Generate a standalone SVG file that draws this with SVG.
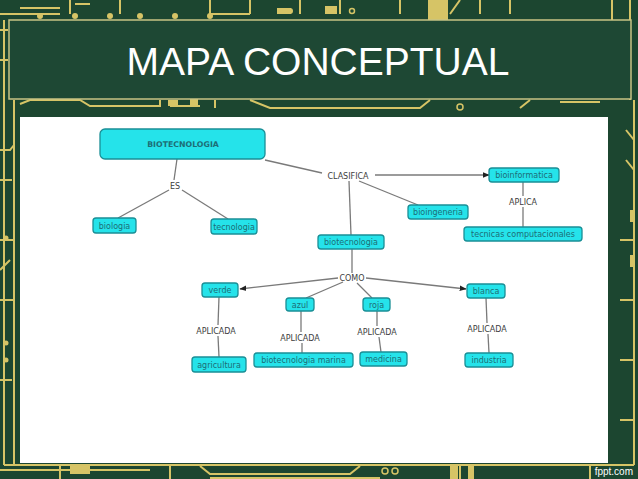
<svg xmlns="http://www.w3.org/2000/svg" width="638" height="479" viewBox="0 0 638 479">
<defs>
<style>
.trace{fill:none;stroke:#d6c466;stroke-width:2}
.pad{fill:#d6c466}
.node rect{fill:#25e3ea;stroke:#1a8f96;stroke-width:1.3}
.node text{font-family:"DejaVu Sans",sans-serif;font-size:8px;fill:#1d6e76;text-anchor:middle}
.lbl{font-family:"DejaVu Sans",sans-serif;font-size:8px;fill:#3d3d3d;text-anchor:middle}
.conn line{stroke:#7a7a7a;stroke-width:1.3}
</style>
<marker id="ah" viewBox="0 0 10 10" refX="9" refY="5" markerWidth="7" markerHeight="7" orient="auto" markerUnits="userSpaceOnUse">
<path d="M0,1 L10,5 L0,9 z" fill="#222"/>
</marker>
</defs>
<!-- background circuit board -->
<rect width="638" height="479" fill="#1c4630"/>
<g id="circuit">
<path class="trace" d="M0,14 H60 M70,0 V14 M120,0 V14 M20,8 H60 M75,4 H90 M210,0 V14 H250 M250,14 V0 M300,0 V14 M340,0 V14 M400,0 V14 M430,14 V2 M460,0 L450,14 M480,0 V14 M510,0 V14"/>
<circle class="pad" cx="40" cy="16" r="3"/><circle class="pad" cx="75" cy="16" r="3"/><circle class="pad" cx="110" cy="16" r="3"/><circle class="pad" cx="140" cy="16" r="3"/><circle class="pad" cx="175" cy="16" r="3"/><circle class="pad" cx="210" cy="16" r="3"/>
<rect class="pad" x="277" y="8" width="14" height="6"/><circle class="pad" cx="290" cy="11" r="3"/>
<rect class="pad" x="325" y="6" width="12" height="8"/><circle cx="352" cy="11" r="2.5" fill="none" stroke="#d6c466" stroke-width="1.5"/>
<rect class="pad" x="428" y="0" width="20" height="20"/>
<path class="trace" d="M612,0 V20 M630,0 V100"/>
<path class="trace" d="M4,20 V465 M14,100 V465 M4,465 H634 M634,100 V465" stroke-width="1.5"/>
<path class="trace" d="M20,104 L30,100 H80 L90,106 H160 V100 M170,106 H200 M215,100 V108 M250,100 L270,108 H420 L430,100 M520,108 L530,100 M560,102 H600 M0,30 H8 M0,60 H8"/>
<rect class="pad" x="168" y="100" width="10" height="6"/><rect class="pad" x="190" y="98" width="8" height="8"/>
<circle cx="460" cy="107" r="3" fill="none" stroke="#d6c466" stroke-width="1.5"/>
<path class="trace" d="M0,150 H10 L14,145 M0,180 H12 M0,240 H14 M0,270 L10,260 M0,300 H14 M0,380 H12 M626,130 L634,140 M626,160 L634,170 M620,240 H634 M620,300 H634 M620,360 H634 M620,420 H634"/>
<circle class="pad" cx="6" cy="238" r="2.5"/><circle class="pad" cx="6" cy="343" r="2.5"/><circle class="pad" cx="6" cy="360" r="2.5"/>
<rect class="pad" x="630" y="210" width="4" height="12"/><rect class="pad" x="630" y="255" width="4" height="12"/>
<path class="trace" d="M0,470 H150 M60,466 V479 M170,466 V479 M200,466 L210,474 H350 L360,466 M210,478 H380 M460,466 V479 M590,466 V479"/>
<rect class="pad" x="70" y="466" width="20" height="8"/>
<circle cx="385" cy="471" r="3" fill="none" stroke="#d6c466" stroke-width="1.5"/><circle cx="395" cy="471" r="3" fill="none" stroke="#d6c466" stroke-width="1.5"/>
<rect class="pad" x="450" y="466" width="8" height="13"/><rect class="pad" x="468" y="466" width="6" height="13"/>
<text x="633" y="475" font-family="'Liberation Sans',sans-serif" font-size="10" fill="#ffffff" text-anchor="end">fppt.com</text>
</g>
<!-- title banner -->
<g id="title">
<rect x="9" y="20" width="622" height="79" fill="#1e4834" stroke="#c8c384" stroke-width="1.5"/>
<text x="318" y="75" font-family="'Liberation Sans',Arial,sans-serif" font-size="39" fill="#ffffff" text-anchor="middle">MAPA CONCEPTUAL</text>
</g>
<!-- white panel -->
<rect x="20" y="117" width="588" height="346" fill="#ffffff"/>
<!-- connectors -->
<g id="connectors" class="conn">
<line x1="177" y1="159" x2="174" y2="180"/>
<line x1="169" y1="190" x2="118" y2="218"/>
<line x1="182" y1="190" x2="228" y2="219"/>
<line x1="265" y1="160" x2="322" y2="173"/>
<line x1="375" y1="175" x2="489" y2="175" marker-end="url(#ah)"/>
<line x1="359" y1="181" x2="418" y2="205"/>
<line x1="349" y1="181" x2="351" y2="235"/>
<line x1="523" y1="182" x2="523" y2="196"/>
<line x1="523" y1="207" x2="523" y2="227"/>
<line x1="352" y1="249" x2="352" y2="273"/>
<line x1="338" y1="278" x2="240" y2="289" marker-end="url(#ah)"/>
<line x1="343" y1="282" x2="306" y2="298"/>
<line x1="357" y1="283" x2="372" y2="298"/>
<line x1="366" y1="278" x2="466" y2="289" marker-end="url(#ah)"/>
<line x1="219" y1="297" x2="218" y2="325"/>
<line x1="218" y1="336" x2="219" y2="357"/>
<line x1="301" y1="311" x2="301" y2="332"/>
<line x1="302" y1="343" x2="302" y2="353"/>
<line x1="377" y1="311" x2="377" y2="326"/>
<line x1="379" y1="337" x2="381" y2="352"/>
<line x1="486" y1="298" x2="487" y2="323"/>
<line x1="488" y1="334" x2="489" y2="353"/>
</g>
<g id="linking-phrases">
<text class="lbl" x="175" y="189">ES</text>
<text class="lbl" x="348" y="179">CLASIFICA</text>
<text class="lbl" x="523" y="205">APLICA</text>
<text class="lbl" x="352" y="281">COMO</text>
<text class="lbl" x="216" y="334">APLICADA</text>
<text class="lbl" x="300" y="341">APLICADA</text>
<text class="lbl" x="377" y="335">APLICADA</text>
<text class="lbl" x="487" y="332">APLICADA</text>
</g>
<!-- nodes -->
<g id="n-biotecnologia-main" class="node"><rect x="100" y="129" width="165" height="30" rx="5"/><text x="183" y="147" font-weight="bold" style="font-size:7.8px">BIOTECNOLOGIA</text></g>
<g id="n-biologia" class="node"><rect x="93" y="218" width="43" height="15" rx="3"/><text x="114.5" y="228.5">biologia</text></g>
<g id="n-tecnologia" class="node"><rect x="211" y="219" width="46" height="15" rx="3"/><text x="234" y="229.5">tecnologia</text></g>
<g id="n-bioinformatica" class="node"><rect x="489" y="168" width="70" height="14" rx="3"/><text x="524" y="178">bioinformatica</text></g>
<g id="n-bioingeneria" class="node"><rect x="408" y="205" width="60" height="14" rx="3"/><text x="438" y="215">bioingeneria</text></g>
<g id="n-tecnicas" class="node"><rect x="464" y="227" width="118" height="14" rx="3"/><text x="523" y="237">tecnicas computacionales</text></g>
<g id="n-biotecnologia" class="node"><rect x="318" y="235" width="66" height="14" rx="3"/><text x="351" y="245">biotecnologia</text></g>
<g id="n-verde" class="node"><rect x="202" y="283" width="36" height="14" rx="3"/><text x="220" y="293">verde</text></g>
<g id="n-azul" class="node"><rect x="286" y="298" width="28" height="13" rx="3"/><text x="300" y="307.5">azul</text></g>
<g id="n-roja" class="node"><rect x="363" y="298" width="27" height="13" rx="3"/><text x="376.5" y="307.5">roja</text></g>
<g id="n-blanca" class="node"><rect x="467" y="284" width="38" height="14" rx="3"/><text x="486" y="294">blanca</text></g>
<g id="n-agricultura" class="node"><rect x="192" y="357" width="54" height="15" rx="3"/><text x="219" y="367.5">agricultura</text></g>
<g id="n-biotec-marina" class="node"><rect x="254" y="353" width="99" height="14" rx="3"/><text x="303.5" y="363">biotecnologia marina</text></g>
<g id="n-medicina" class="node"><rect x="360" y="352" width="47" height="14" rx="3"/><text x="383.5" y="362">medicina</text></g>
<g id="n-industria" class="node"><rect x="465" y="353" width="48" height="14" rx="3"/><text x="489" y="363">industria</text></g>
</svg>
